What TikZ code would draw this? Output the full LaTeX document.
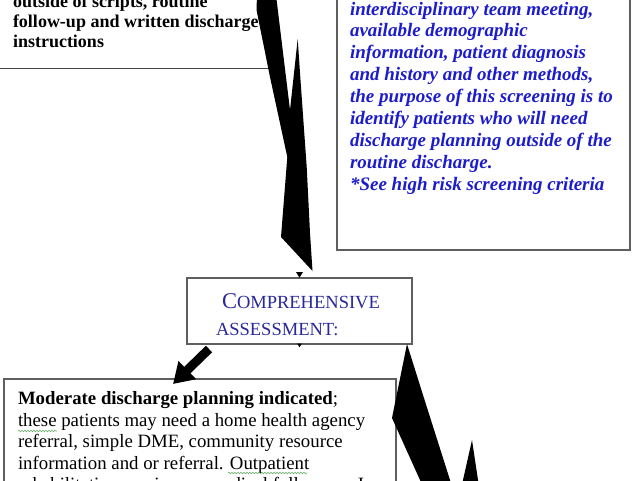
\documentclass[tikz,border=0pt]{standalone}
\usepackage{fontspec}
\setmainfont{Liberation Serif}
\usetikzlibrary{arrows.meta,decorations.pathmorphing,calc}
\definecolor{boxgray}{RGB}{95,95,95}
\definecolor{linegray}{RGB}{70,70,70}
\definecolor{noteblue}{RGB}{28,28,205}
\definecolor{headblue}{RGB}{40,40,155}
\definecolor{spellgreen}{RGB}{110,175,110}
\begin{document}
\begin{tikzpicture}[x=1pt,y=-1pt,
  frame/.style={draw=boxgray,line width=1.2pt,inner sep=0pt,outer sep=0pt,anchor=north west,fill=white},
  txt/.style={inner sep=0pt,outer sep=0pt,anchor=north west,align=left},
  bolt/.style={fill=black,draw=none},
  squiggle/.style={draw=spellgreen,line width=0.6pt,decorate,decoration={snake,amplitude=0.8pt,segment length=3pt}}
]
\useasboundingbox (0,0) rectangle (640,480);
\clip (0,0) rectangle (640,480);
\fill[white] (0,0) rectangle (640,480);

% boxes
\node[frame,draw=linegray,line width=1pt,minimum width=275pt,minimum height=88pt] (routine) at (-5,-20) {};
\node[frame,minimum width=293pt,minimum height=270pt] (screen) at (337,-20) {};
\node[frame,minimum width=225pt,minimum height=66pt] (assess) at (187,278) {};
\node[frame,minimum width=392pt,minimum height=140pt] (moderate) at (4,379) {};

% texts
\node[txt,font=\fontsize{18}{20}\selectfont\bfseries] (routinetxt) at (13,-9)
  {\rule{0pt}{16pt}outside of scripts, routine\\follow-up and written discharge\\instructions};

\node[txt,text=noteblue,font=\fontsize{19}{21.875}\selectfont\bfseries\itshape] (screentxt) at (350,-2)
  {\rule{0pt}{17pt}interdisciplinary team meeting,\\
   available demographic\\
   information, patient diagnosis\\
   and history and other methods,\\
   the purpose of this screening is to\\
   identify patients who will need\\
   discharge planning outside of the\\
   routine discharge.\\
   *See high risk screening criteria};

\node[txt,text=headblue,font=\fontsize{18.5}{27}\selectfont] (assesstxt) at (216,288)
  {\rule{0pt}{20pt}\hspace*{6pt}{\fontsize{22.5}{27}\selectfont C}OMPREHENSIVE\\ASSESSMENT:};

\node[txt,font=\fontsize{18.8}{21.6}\selectfont] (moderatetxt) at (18,388.5)
  {\rule{0pt}{16pt}\textbf{Moderate discharge planning indicated};\\
   these patients may need a home health agency\\
   referral, simple DME, community resource\\
   information and or referral. Outpatient\\
   rehabilitation services or medical follow-up. I};

% spelling squiggles
\draw[squiggle] (18,431) -- (57,431);
\draw[squiggle] (228,473) -- (307,473);

% zig-zag arrow from top-left box to assessment
\fill[bolt] (257,-5) -- (276,-5) -- (290,110) -- (297.7,39) -- (300.7,83) -- (306.7,167)
  -- (310,233) -- (312.5,271) -- (281,237) -- (287.3,157) -- (270,77) -- (256.5,10) -- cycle;
\fill[bolt] ($(assess.north)+(-3.5,-6)$) -- ($(assess.north)+(3.5,-6)$) -- ($(assess.north)+(0,-0.3)$) -- cycle;
\fill[bolt] ($(assess.south)+(-2.5,-0.5)$) -- ($(assess.south)+(2.5,-0.5)$) -- ($(assess.south)+(0,3.2)$) -- cycle;

% block arrow to moderate box
\draw[line width=9pt,-{Triangle[width=24pt,length=20pt]}]
  ($(assess.south west)+(22,5)$) -- ($(moderate.north west)+(169,5)$);

% zig-zag arrow to lower right
\fill[bolt] ($(assess.south east)+(-5,0)$) -- (423,395) -- (450,480) -- (457,502) -- (430,502) -- (420,480) -- (392,418) -- cycle;
\fill[bolt] (472,440) -- (478,480) -- (482,502) -- (458,502) -- (463,480) -- cycle;
\end{tikzpicture}
\end{document}
